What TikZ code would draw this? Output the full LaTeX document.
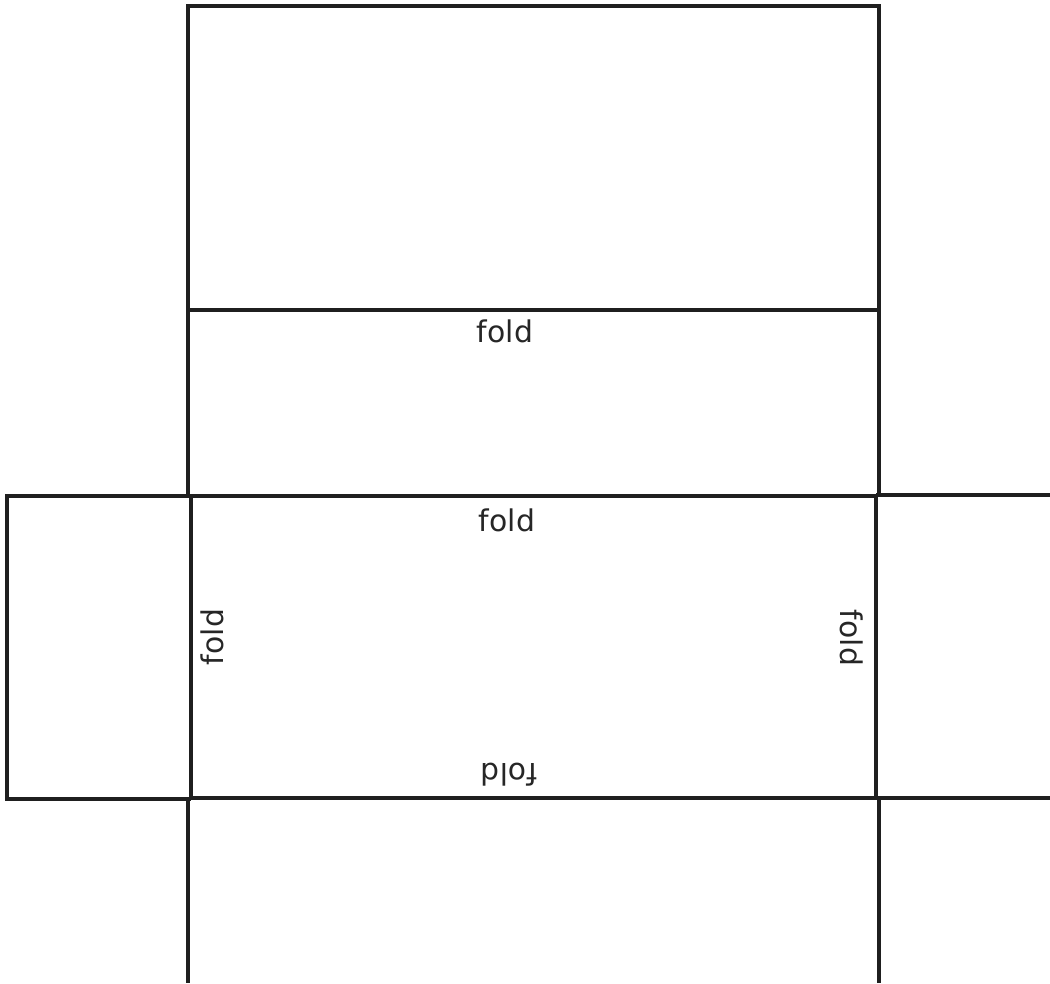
\documentclass[tikz,border=0pt]{standalone}
\usepackage{fontspec}
\setmainfont{DejaVu Sans}
\tikzset{
  cutline/.style = {line width=2pt, draw=black!88},
  foldlabel/.style = {font=\fontsize{17}{18}\selectfont, inner sep=0pt,
    text=black!85}
}
\begin{document}
\begin{tikzpicture}[x=0.02cm, y=-0.02cm]
\useasboundingbox (0,0) rectangle (1050,983);
% lid and its front
\draw[cutline] (188,310) -- (188,6) -- (879,6) -- (879,310);
\draw[cutline] (188,310) -- (879,310);
\draw[cutline] (188,310) -- (188,496);
\draw[cutline] (879,310) -- (879,496);
% base
\draw[cutline] (191,496) rectangle (876,798);
% side flaps
\draw[cutline] (191,496) -- (7,496) -- (7,799) -- (191,799);
\draw[cutline] (876,495) -- (1050,495);
\draw[cutline] (876,798) -- (1050,798);
% back
\draw[cutline] (188,798) -- (188,983);
\draw[cutline] (879,798) -- (879,983);
% labels
\node[foldlabel] (lidfold) at (505,331) {fold};
\node[foldlabel] (topfold) at (507,520) {fold};
\node[foldlabel, rotate=90] (leftfold) at (212,637) {fold};
\node[foldlabel, rotate=-90] (rightfold) at (852,638) {fold};
\node[foldlabel, rotate=180] (bottomfold) at (509,775) {fold};
\end{tikzpicture}
\end{document}
